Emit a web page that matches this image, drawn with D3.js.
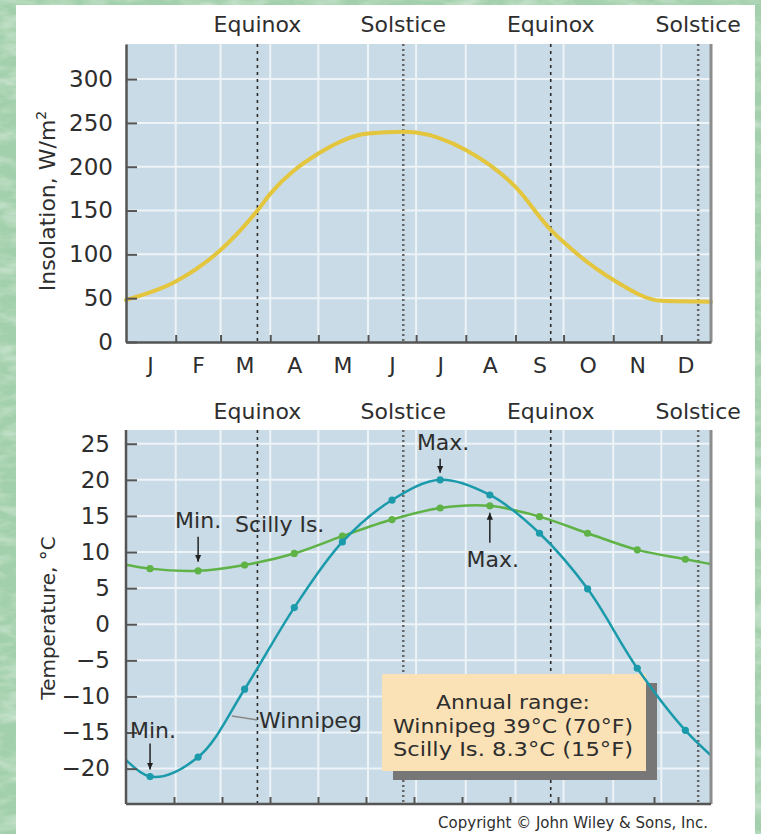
<!DOCTYPE html>
<html>
<head>
<meta charset="utf-8">
<script src="https://cdn.jsdelivr.net/npm/d3@7"></script>
<style>
  html, body { margin: 0; padding: 0; background: #a9d3b1; }
  svg { display: block; }
  text { font-family: "DejaVu Sans", "Liberation Sans", sans-serif; fill: #2e2e2e; }
</style>
</head>
<body>
<svg id="chart" width="761" height="834"></svg>
<script>
// ---- data ----
const monthLabels = ["J", "F", "M", "A", "M", "J", "J", "A", "S", "O", "N", "D"];
const monthStartDays = [0, 31, 59, 90, 120, 151, 181, 212, 243, 273, 304, 334, 365];
const midMonthDays = [15, 45, 74, 105, 135, 166, 196, 227, 258, 288, 319, 349];
const seasonDays = [82, 173, 265, 357];
const seasonLabels = ["Equinox", "Solstice", "Equinox", "Solstice"];

// daily insolation (W/m²) sampled through the year
const insolationDays   = [0, 31, 59, 82, 90, 120, 151, 173, 181, 212, 243, 265, 273, 304, 334, 365];
const insolationValues = [48, 69, 105, 150, 169, 215, 238, 240, 239, 219, 177, 128, 114, 71, 47, 46];

// mean monthly temperatures (°C)
const winnipegTemps = [-21.1, -18.4, -9.0, 2.3, 11.4, 17.2, 20.0, 17.9, 12.6, 4.9, -6.1, -14.7];
const scillyTemps   = [7.7, 7.4, 8.2, 9.8, 12.2, 14.5, 16.1, 16.4, 14.9, 12.6, 10.3, 9.0];

const insolationTicks = [0, 50, 100, 150, 200, 250, 300];
const tempTicks = [25, 20, 15, 10, 5, 0, -5, -10, -15, -20];
const rangeLines = ["Annual range:", "Winnipeg 39°C (70°F)", "Scilly Is. 8.3°C (15°F)"];
const copyrightText = "Copyright © John Wiley & Sons, Inc.";

// ---- layout ----
const W = 761, H = 834;
const left = 126, right = 711;
const top1 = 44, bottom1 = 342;
const top2 = 430, bottom2 = 804;

const svg = d3.select("#chart");
const defs = svg.append("defs");

// mottled green backdrop
const tex = defs.append("filter").attr("id", "tex").attr("x", 0).attr("y", 0).attr("width", 1).attr("height", 1);
tex.append("feTurbulence").attr("type", "fractalNoise").attr("baseFrequency", "0.035 0.09").attr("numOctaves", 3).attr("seed", 7);
tex.append("feColorMatrix").attr("type", "matrix")
  .attr("values", "0 0 0 0 1  0 0 0 0 1  0 0 0 0 1  1.1 0 0 0 -0.45");
svg.append("rect").attr("width", W).attr("height", H).attr("fill", "#a3d0ac");
svg.append("rect").attr("width", W).attr("height", H).attr("filter", "url(#tex)").attr("opacity", 0.8);

// white page
svg.append("rect").attr("x", 16).attr("y", 5).attr("width", 739).attr("height", H - 5).attr("fill", "#ffffff");

// arrowhead
defs.append("marker").attr("id", "arrow")
  .attr("viewBox", "0 0 10 10").attr("refX", 10).attr("refY", 5)
  .attr("markerWidth", 7).attr("markerHeight", 8).attr("markerUnits", "userSpaceOnUse")
  .attr("orient", "auto")
  .append("path").attr("d", "M0,0.5 L10,5 L0,9.5 z").attr("fill", "#222");

// ---- scales ----
const x = d3.scaleLinear().domain([0, 365]).range([left, right]);
const yIns = d3.scaleLinear().domain([0, 340]).range([bottom1, top1]);
const yTemp = d3.scaleLinear().domain([-24.9, 26.9]).range([bottom2, top2]);
const monthTick = d3.scaleLinear().domain([0, 12]).range([left, 702]);

const plotBg = "#c8dbe6";
const gridColor = "#edf3f7";
const axisColor = "#555";

function panel(top, bottom, yScale, yTicks) {
  const g = svg.append("g");
  g.append("rect").attr("x", left).attr("y", top).attr("width", right - left).attr("height", bottom - top).attr("fill", plotBg);
  // horizontal grid
  g.selectAll(".hg").data(yTicks.filter(d => yScale(d) < bottom - 1)).join("line")
    .attr("x1", left).attr("x2", right)
    .attr("y1", d => yScale(d)).attr("y2", d => yScale(d))
    .attr("stroke", gridColor).attr("stroke-width", 2);
  // vertical grid at month boundaries
  g.selectAll(".vg").data(monthStartDays.slice(1, 12)).join("line")
    .attr("x1", d => x(d)).attr("x2", d => x(d))
    .attr("y1", top).attr("y2", bottom)
    .attr("stroke", gridColor).attr("stroke-width", 2);
  // equinox / solstice markers
  g.selectAll(".sd").data(seasonDays).join("line")
    .attr("x1", d => x(d)).attr("x2", d => x(d))
    .attr("y1", top).attr("y2", bottom)
    .attr("stroke", (d, i) => i % 2 ? "#666" : "#2a2a2a")
    .attr("stroke-width", (d, i) => i % 2 ? 2.5 : 1.6)
    .attr("stroke-dasharray", (d, i) => i % 2 ? "2,3" : "3,4");
  return g;
}

function seasonHeader(baseline) {
  svg.append("g").selectAll("text").data(seasonDays).join("text")
    .attr("x", d => x(d)).attr("y", baseline)
    .attr("text-anchor", "middle").attr("font-size", 22)
    .text((d, i) => seasonLabels[i]);
}

function styleAxis(g, fontSize) {
  g.select(".domain").attr("stroke", axisColor).attr("stroke-width", 2.5);
  g.selectAll(".tick line").attr("stroke", axisColor).attr("stroke-width", 2);
  g.selectAll("text").attr("font-size", fontSize).attr("fill", "#2e2e2e").attr("font-family", null);
}

// ================= Insolation panel =================
panel(top1, bottom1, yIns, insolationTicks);
seasonHeader(32);

svg.append("path")
  .datum(insolationDays.map((d, i) => [d, insolationValues[i]]))
  .attr("d", d3.line().x(d => x(d[0])).y(d => yIns(d[1])).curve(d3.curveMonotoneX))
  .attr("fill", "none").attr("stroke", "#e4c53e").attr("stroke-width", 4).attr("stroke-linecap", "round");

svg.append("line").attr("x1", right).attr("x2", right).attr("y1", top1).attr("y2", bottom1)
  .attr("stroke", "#8c8c8c").attr("stroke-width", 3);

const ax1 = svg.append("g").attr("transform", `translate(${left},0)`)
  .call(d3.axisLeft(yIns).tickValues(insolationTicks).tickSizeInner(-11).tickSizeOuter(0).tickPadding(13));
styleAxis(ax1, 23);

const bx1 = svg.append("g").attr("transform", `translate(0,${bottom1})`)
  .call(d3.axisBottom(x).tickValues(monthStartDays.slice(1, 12)).tickSizeInner(-7).tickSizeOuter(0).tickFormat(""));
styleAxis(bx1, 22);

const ml = svg.append("g").attr("transform", `translate(0,${bottom1})`)
  .call(d3.axisBottom(x).tickValues(midMonthDays).tickSize(0).tickPadding(15).tickFormat((d, i) => monthLabels[i]));
ml.select(".domain").remove();
styleAxis(ml, 22);

svg.append("text")
  .attr("transform", `translate(55,${(top1 + bottom1) / 2 + 8}) rotate(-90)`)
  .attr("text-anchor", "middle").attr("font-size", 22)
  .call(t => {
    t.append("tspan").text("Insolation, W/m");
    t.append("tspan").attr("font-size", 14).attr("dy", -9).text("2");
  });

// ================= Temperature panel =================
panel(top2, bottom2, yTemp, tempTicks);
seasonHeader(419);

// annual range box (under the curves)
const box = { x: 382, y: 674, w: 264, h: 97 };
svg.append("rect").attr("x", box.x + 11).attr("y", box.y + 9).attr("width", box.w).attr("height", box.h).attr("fill", "#777");
svg.append("rect").attr("x", box.x).attr("y", box.y).attr("width", box.w).attr("height", box.h).attr("fill", "#fbe2b6");
const lineWidths = [154, 240, 240];
svg.append("g").selectAll("text").data(rangeLines).join("text")
  .attr("x", box.x + box.w / 2 - 1).attr("y", (d, i) => 709 + i * 23.5)
  .attr("text-anchor", "middle").attr("font-size", 20)
  .attr("textLength", (d, i) => lineWidths[i]).attr("lengthAdjust", "spacingAndGlyphs")
  .attr("fill", "#262626")
  .text(d => d);

// temperature curves, wrapped across the year ends and clipped to the plot
defs.append("clipPath").attr("id", "clip2").append("rect")
  .attr("x", left).attr("y", top2).attr("width", right - left).attr("height", bottom2 - top2);

function tempSeries(values, color) {
  const pts = midMonthDays.map((d, i) => [d, values[i]]);
  const wrapped = [[midMonthDays[11] - 365, values[11]], ...pts, [midMonthDays[0] + 365, values[0]]];
  const g = svg.append("g").attr("clip-path", "url(#clip2)");
  g.append("path").datum(wrapped)
    .attr("d", d3.line().x(d => x(d[0])).y(d => yTemp(d[1])).curve(d3.curveCatmullRom.alpha(0.5)))
    .attr("fill", "none").attr("stroke", color).attr("stroke-width", 2.5);
  g.selectAll("circle").data(pts).join("circle")
    .attr("cx", d => x(d[0])).attr("cy", d => yTemp(d[1])).attr("r", 3.6).attr("fill", color);
}
tempSeries(scillyTemps, "#5fb246");
tempSeries(winnipegTemps, "#1b9aab");

svg.append("line").attr("x1", right).attr("x2", right).attr("y1", top2).attr("y2", bottom2)
  .attr("stroke", "#8c8c8c").attr("stroke-width", 3);

const ax2 = svg.append("g").attr("transform", `translate(${left},0)`)
  .call(d3.axisLeft(yTemp).tickValues(tempTicks).tickSizeInner(-11).tickSizeOuter(0).tickPadding(16));
styleAxis(ax2, 23);
ax2.select(".domain").remove();
svg.append("line").attr("x1", left).attr("x2", left).attr("y1", top2).attr("y2", bottom2)
  .attr("stroke", axisColor).attr("stroke-width", 2.5);

const bx2 = svg.append("g").attr("transform", `translate(0,${bottom2})`)
  .call(d3.axisBottom(monthTick).tickValues(d3.range(1, 12)).tickSizeInner(-7).tickSizeOuter(0).tickFormat(""));
styleAxis(bx2, 22);
bx2.select(".domain").remove();
svg.append("line").attr("x1", left).attr("x2", right).attr("y1", bottom2).attr("y2", bottom2)
  .attr("stroke", axisColor).attr("stroke-width", 2.5);

svg.append("text")
  .attr("transform", `translate(55,618) rotate(-90)`)
  .attr("text-anchor", "middle").attr("font-size", 20)
  .text("Temperature, °C");

// ---- annotations ----
const ann = svg.append("g");
function pointer(day, temp, textDy, a0, a1, label, anchor = "middle", dx = 0) {
  const px = x(day), py = yTemp(temp);
  ann.append("line").attr("x1", px).attr("x2", px).attr("y1", py + a0).attr("y2", py + a1)
    .attr("stroke", "#222").attr("stroke-width", 1.5).attr("marker-end", "url(#arrow)");
  ann.append("text").attr("x", px + dx).attr("y", py + textDy)
    .attr("text-anchor", anchor).attr("font-size", 22).text(label);
}
const scillyMin = scillyTemps.indexOf(d3.min(scillyTemps));
const scillyMax = scillyTemps.indexOf(d3.max(scillyTemps));
const winMin = winnipegTemps.indexOf(d3.min(winnipegTemps));
const winMax = winnipegTemps.indexOf(d3.max(winnipegTemps));

pointer(midMonthDays[scillyMin], scillyTemps[scillyMin], -43, -34, -9, "Min.");
pointer(midMonthDays[winMax], winnipegTemps[winMax], -30, -21, -7, "Max.", "middle", 3);
pointer(midMonthDays[scillyMax], scillyTemps[scillyMax], 61, 37, 7, "Max.", "middle", 3);
pointer(midMonthDays[winMin], winnipegTemps[winMin], -39, -33, -7, "Min.", "middle", 3);

ann.append("text").attr("x", 235).attr("y", 532).attr("font-size", 22).text("Scilly Is.");
ann.append("path").attr("d", "M232,716 L257,720").attr("stroke", "#888").attr("stroke-width", 1.5).attr("fill", "none");
ann.append("text").attr("x", 259).attr("y", 728).attr("font-size", 22).text("Winnipeg");

svg.append("text").attr("x", 708).attr("y", 828).attr("text-anchor", "end")
  .attr("font-size", 15).attr("fill", "#333").text(copyrightText);
</script>
</body>
</html>
